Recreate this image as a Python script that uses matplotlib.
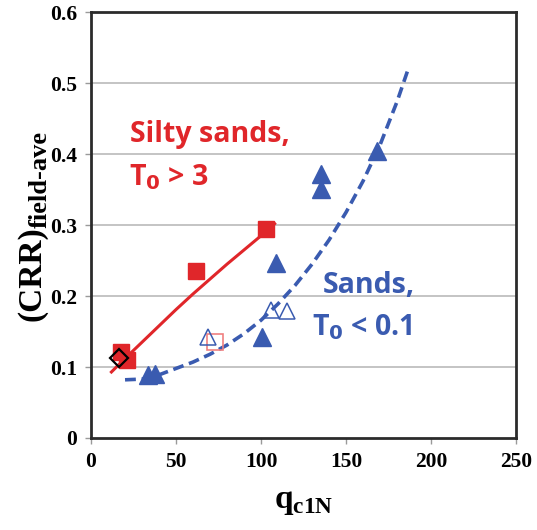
import numpy as np
import matplotlib.pyplot as plt

plt.rcParams['mathtext.fontset'] = 'custom'
plt.rcParams['mathtext.rm'] = 'Liberation Serif:bold'
plt.rcParams['mathtext.bf'] = 'Liberation Serif:bold'

#%% Data
# silty sands, T0 > 3 (filled red squares)
silty_x = [17.6, 21, 62, 103]
silty_y = [0.121, 0.110, 0.235, 0.294]
# open red square
silty_open_x = [73]
silty_open_y = [0.135]
# black open diamond
diam_x = [16.5]
diam_y = [0.113]
# sands, T0 < 0.1 (filled blue triangles)
sand_x = [33.5, 37.5, 100.5, 109, 135, 135.5, 168]
sand_y = [0.089, 0.090, 0.143, 0.247, 0.372, 0.351, 0.404]
# open blue triangles
sand_open_x = [69, 106, 115]
sand_open_y = [0.143, 0.181, 0.179]

# trend curves
red_fit_x = [12, 20, 30, 40, 50, 60, 70, 80, 90, 100, 108]
red_fit_y = [0.093, 0.112, 0.135, 0.158, 0.181, 0.203, 0.224, 0.245, 0.265,
             0.285, 0.302]
blue_fit_x = [20, 30, 40, 50, 60, 70, 80, 90, 100, 110, 120, 130, 140, 150,
              160, 170, 180, 187]
blue_fit_y = [0.082, 0.083, 0.089, 0.098, 0.107, 0.118, 0.131, 0.147, 0.166,
              0.189, 0.215, 0.245, 0.279, 0.318, 0.362, 0.413, 0.474, 0.523]

xticks = [0, 50, 100, 150, 200, 250]
yticks = [0, 0.1, 0.2, 0.3, 0.4, 0.5, 0.6]

RED = '#e0262a'
BLUE = '#3a5bb0'

#%% Plot
fig = plt.figure(figsize=(5.37, 5.30), dpi=100)
ax = fig.add_axes([0.1695, 0.1736, 0.7915, 0.8034])

for y in yticks[1:-1]:
    ax.axhline(y, color='#c4c4c4', lw=1.4, zorder=0)

ax.plot(red_fit_x, red_fit_y, color=RED, lw=2.2, zorder=2,
        solid_joinstyle='round')
ax.plot(blue_fit_x, blue_fit_y, color=BLUE, lw=2.6, ls=(0, (3.0, 1.6)),
        zorder=2)

ax.plot(silty_x, silty_y, 's', ms=12, color=RED, mec=RED, zorder=3)
ax.plot(silty_open_x, silty_open_y, 's', ms=11, mfc='none', mec='#f08080',
        mew=1.2, zorder=3)
ax.plot(diam_x, diam_y, 'D', ms=9, mfc='none', mec='black', mew=1.6, zorder=4)
ax.plot(sand_x, sand_y, '^', ms=13, color=BLUE, zorder=3)
ax.plot(sand_open_x, sand_open_y, '^', ms=12, mfc='none', mec=BLUE,
        mew=1.1, zorder=3)

ax.set_xlim(0, 250)
ax.set_ylim(0, 0.6)
ax.set_xticks(xticks)
ax.set_yticks(yticks)
ax.set_xticklabels([str(t) for t in xticks])
ax.set_yticklabels(['0'] + [f'{t:.1f}' for t in yticks[1:]])

for lab in ax.get_xticklabels() + ax.get_yticklabels():
    lab.set_fontfamily('Liberation Serif')
    lab.set_fontweight('bold')
    lab.set_fontsize(15.5)
ax.tick_params(direction='out', length=4, width=1, color='#9a9a9a', pad=6)

for s in ax.spines.values():
    s.set_color('#2b2b2b')
    s.set_linewidth(2)

ax.set_xlabel(r'q$_{\text{c1N}}$', family='Liberation Serif', weight='bold',
              fontsize=24, labelpad=10)

# y label: main part and a larger-than-default subscript
fig.text(40 / 537, 1 - 321 / 530, '(CRR)', family='Liberation Serif',
         weight='bold', fontsize=24, rotation=90, rotation_mode='anchor',
         ha='left', va='baseline')
fig.text(47 / 537, 1 - 228 / 530, 'field-ave', family='Liberation Serif',
         weight='bold', fontsize=19, rotation=90, rotation_mode='anchor',
         ha='left', va='baseline')

tkw = dict(family='Open Sans', weight='bold', fontsize=20.5, va='baseline',
           transform=ax.transAxes, math_fontfamily='dejavusans')
ax.text(0.092, 0.6955, 'Silty sands,', color=RED, **tkw)
ax.text(0.089, 0.594, r'T$_\mathbf{0}$ > 3', color=RED, **tkw)
ax.text(0.546, 0.3397, 'Sands,', color=BLUE, **tkw)
ax.text(0.521, 0.2418, r'T$_\mathbf{0}$ < 0.1', color=BLUE, **tkw)

fig.savefig('out.png', dpi=100)
